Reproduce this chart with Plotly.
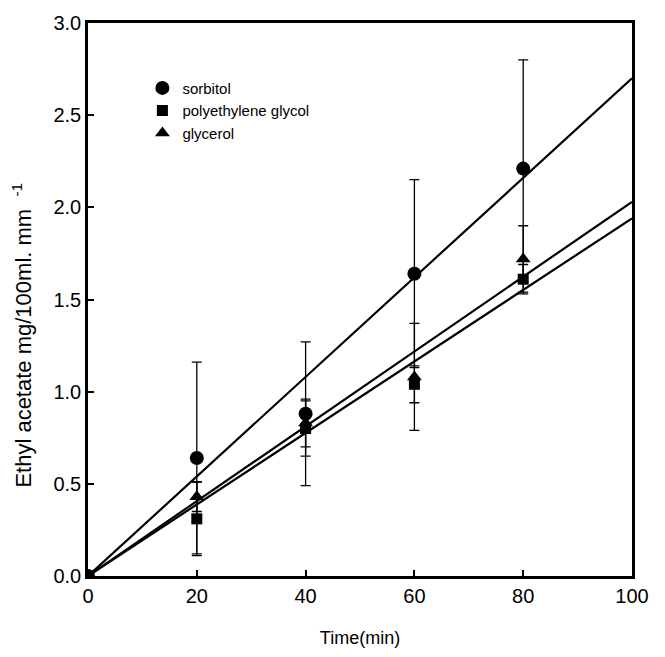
import plotly.graph_objects as go

time = [0, 20, 40, 60, 80]
sorbitol = [0, 0.64, 0.88, 1.64, 2.21]
sorbitol_err = [0, 0.52, 0.39, 0.51, 0.59]
peg = [0, 0.31, 0.80, 1.04, 1.61]
peg_err = [0, 0.20, 0.15, 0.10, 0.08]
glycerol = [0, 0.43, 0.83, 1.08, 1.72]
glycerol_err = [0, 0.08, 0.13, 0.29, 0.18]

fit_x = [0, 100]
slopes = {"sorbitol": 0.0270, "polyethylene glycol": 0.0194, "glycerol": 0.0203}

fig = go.Figure()

for name, slope in slopes.items():
    fig.add_trace(go.Scatter(x=fit_x, y=[slope * x for x in fit_x], mode="lines",
                             line=dict(color="black", width=2.2), showlegend=False,
                             hoverinfo="skip"))

series = [
    ("sorbitol", sorbitol, sorbitol_err, "circle", 14),
    ("polyethylene glycol", peg, peg_err, "square", 11),
    ("glycerol", glycerol, glycerol_err, "triangle-up", 13),
]
for name, y, e, sym, sz in series:
    fig.add_trace(go.Scatter(
        x=time, y=y, mode="markers", name=name,
        marker=dict(symbol=sym, size=sz, color="black"),
        error_y=dict(type="data", array=e, visible=True, color="black",
                     thickness=1.3, width=5),
    ))

font = "Liberation Sans, Arial, sans-serif"
fig.update_layout(
    width=665, height=657,
    margin=dict(l=88, r=33, t=15, b=79),
    plot_bgcolor="white", paper_bgcolor="white",
    font=dict(family=font, color="black", size=20),
    showlegend=True,
    legend=dict(x=0.1, y=0.912, xanchor="left", yanchor="top",
                bgcolor="rgba(0,0,0,0)", font=dict(size=15),
                itemwidth=30, tracegroupgap=0),
    xaxis=dict(range=[0, 100], tickvals=[0, 20, 40, 60, 80, 100],
               showline=True, linecolor="black", linewidth=2.5, mirror=True,
               ticks="inside", ticklen=6, tickwidth=1.5, tickcolor="black",
               showgrid=False, zeroline=False,
               title=dict(text="Time(min)", font=dict(size=18), standoff=26)),
    yaxis=dict(range=[0, 3.0], tickvals=[0, 0.5, 1.0, 1.5, 2.0, 2.5, 3.0],
               tickformat=".1f",
               showline=True, linecolor="black", linewidth=2.5, mirror=True,
               ticks="inside", ticklen=6, tickwidth=1.5, tickcolor="black",
               showgrid=False, zeroline=False),
    annotations=[dict(
        text="Ethyl acetate mg/100ml. mm  <sup>-1</sup>",
        xref="paper", yref="paper", x=-0.121, y=0.435,
        xanchor="center", yanchor="middle", textangle=-90, showarrow=False,
        font=dict(size=22, family=font, color="black"))],
)

fig.write_html("out.html")
